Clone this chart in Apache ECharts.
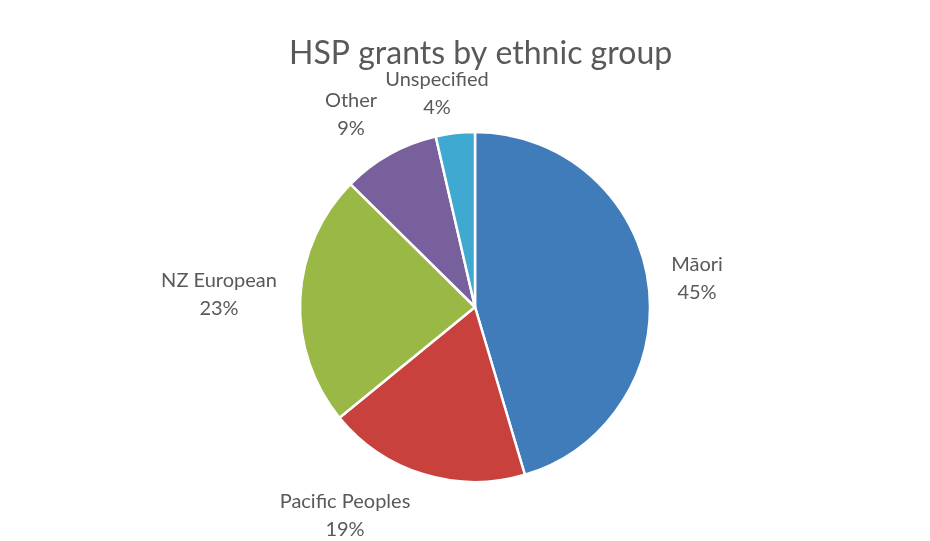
<!DOCTYPE html>
<html>
<head>
<meta charset="utf-8">
<script src="https://cdn.jsdelivr.net/npm/echarts@6/dist/echarts.min.js"></script>
<style>
html,body{margin:0;padding:0;background:#fff;}
#chart{width:930px;height:541px;}
</style>
</head>
<body>
<div id="chart"></div>
<script>
// data
var groups=['Māori','Pacific Peoples','NZ European','Other','Unspecified'];
var shares=[45.4,18.7,23.3,9.0,3.6];
var colors=['#417cba','#c8413c','#9ab846','#78609d','#3fa9d2'];
// where each label sits (label centre, px)
var labelPos=[[697,279],[345,516],[219,295],[351,115],[437,94]];

var myChart=echarts.init(document.getElementById('chart'));
var pieData=[];
for(var i=0;i<groups.length;i++){
    pieData.push({name:groups[i],value:shares[i],itemStyle:{color:colors[i]}});
}
var option={
    backgroundColor:'#fff',
    animation:false,
    title:{
        text:'HSP grants by ethnic group',
        left:284,
        top:33,
        textStyle:{fontFamily:'Lato',fontSize:32,fontWeight:'normal',color:'#595959'}
    },
    series:[{
        type:'pie',
        center:[475,307],
        radius:175,
        startAngle:90,
        clockwise:true,
        itemStyle:{borderColor:'#fff',borderWidth:2.5},
        label:{
            show:true,
            position:'outside',
            fontFamily:'Lato',
            fontSize:20,
            lineHeight:28,
            color:'#595959',
            align:'center',
            formatter:function(p){return p.name+'\n'+Math.round(p.percent)+'%';}
        },
        labelLine:{show:false},
        labelLayout:function(p){
            var pos=labelPos[p.dataIndex];
            return {x:pos[0],y:pos[1],align:'center',verticalAlign:'middle'};
        },
        data:pieData
    }]
};
myChart.setOption(option);
</script>
</body>
</html>
